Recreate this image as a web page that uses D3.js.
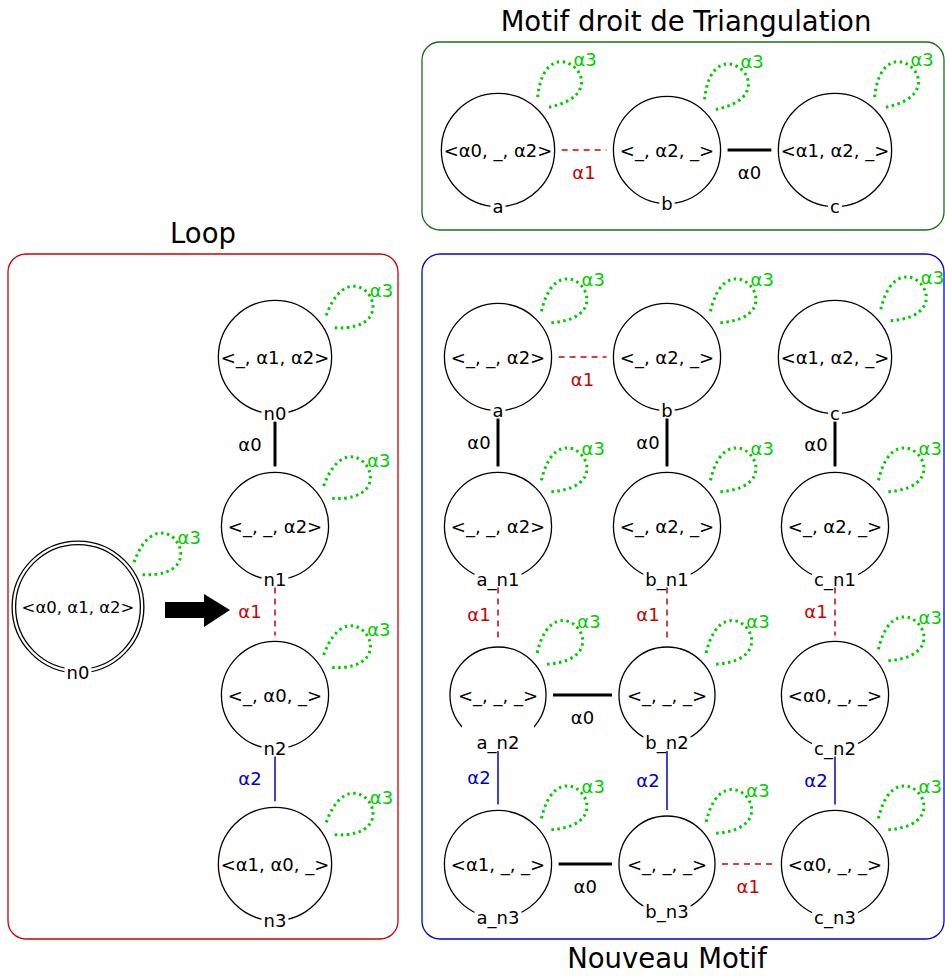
<!DOCTYPE html>
<html>
<head>
<meta charset="utf-8">
<script src="https://cdn.jsdelivr.net/npm/d3@7"></script>
<style>
  body { margin: 0; background: #fff; }
</style>
</head>
<body>
<script>
// Motif droit de Triangulation
const motifNames = ["a", "b", "c"];
const motifLabels = ["<α0, _, α2>", "<_, α2, _>", "<α1, α2, _>"];
const motifEdges = [["a", "b", "α1"], ["b", "c", "α0"]];

// Loop
const startName = "n0";
const startLabel = "<α0, α1, α2>";
const loopNames = ["n0", "n1", "n2", "n3"];
const loopLabels = ["<_, α1, α2>", "<_, _, α2>", "<_, α0, _>", "<α1, α0, _>"];
const loopEdges = [["n0", "n1", "α0"], ["n1", "n2", "α1"], ["n2", "n3", "α2"]];

// Nouveau Motif
const newCols = ["a", "b", "c"];
const newRows = ["", "_n1", "_n2", "_n3"];
const newLabels = [
  ["<_, _, α2>", "<_, α2, _>", "<α1, α2, _>"],
  ["<_, _, α2>", "<_, α2, _>", "<_, α2, _>"],
  ["<_, _, _>", "<_, _, _>", "<α0, _, _>"],
  ["<α1, _, _>", "<_, _, _>", "<α0, _, _>"]
];
const newEdges = [
  ["a", "a_n1", "α0"], ["b", "b_n1", "α0"], ["c", "c_n1", "α0"],
  ["a_n1", "a_n2", "α1"], ["b_n1", "b_n2", "α1"], ["c_n1", "c_n2", "α1"],
  ["a_n2", "a_n3", "α2"], ["b_n2", "b_n3", "α2"], ["c_n2", "c_n3", "α2"],
  ["a", "b", "α1"], ["a_n2", "b_n2", "α0"], ["a_n3", "b_n3", "α0"], ["b_n3", "c_n3", "α1"]
];
const openNodes = ["a_n2"]; // circle drawn open at the bottom
const loopLabel = "α3";

var font = "DejaVu Sans";
var green = "#00cc00";

var edgeStyle = {
  "α0": { color: "#000", width: 3, dash: null },
  "α1": { color: "#cc0000", width: 1.5, dash: "6,5" },
  "α2": { color: "#0000cc", width: 1.5, dash: null }
};

var panels = {
  motif: { box: [422, 42, 944, 230], color: "#1b6e1b", title: "Motif droit de Triangulation", tx: 686, ty: 31, angle: -47, dx: -21 },
  loop: { box: [8, 254, 398, 939], color: "#cc0000", title: "Loop", tx: 203, ty: 243, angle: -33, dx: -25 },
  nouveau: { box: [422, 254, 944, 939], color: "#0000dd", title: "Nouveau Motif", tx: 667, ty: 968, angle: -40, dx: -19 }
};

var x = d3.scaleOrdinal().domain(["start", "loop", "a", "b", "c"]).range([78, 275, 498, 667, 835]);
var y = d3.scaleOrdinal().domain(["top", "r0", "r1", "mid", "r2", "r3"]).range([150, 357, 526, 607, 695, 864]);
// circle radius from label width (graphviz-like)
var r = d3.scaleLinear().domain([80, 94, 108]).range([48, 53.5, 56.5]);
var rowKeys = ["r0", "r1", "r2", "r3"];

var svg = d3.select("body").append("svg").attr("width", 945).attr("height", 976);

function textWidth(s, size) {
  var t = svg.append("text").attr("font-family", font).attr("font-size", size).text(s);
  var w = t.node().getComputedTextLength();
  t.remove();
  return w;
}

// build nodes
var nodes = [];
motifNames.forEach(function (n, i) {
  nodes.push({ key: "motif:" + n, name: n, label: motifLabels[i], panel: "motif", col: n, row: "top" });
});
loopNames.forEach(function (n, i) {
  nodes.push({ key: "loop:" + n, name: n, label: loopLabels[i], panel: "loop", col: "loop", row: rowKeys[i] });
});
nodes.push({ key: "loop:start", name: startName, label: startLabel, panel: "loop", col: "start", row: "mid", double: true });
newRows.forEach(function (suf, ri) {
  newCols.forEach(function (c, ci) {
    var n = c + suf;
    nodes.push({ key: "nouveau:" + n, name: n, label: newLabels[ri][ci], panel: "nouveau", col: c, row: rowKeys[ri], open: openNodes.indexOf(n) >= 0 });
  });
});
nodes.forEach(function (d) {
  d.cx = x(d.col);
  d.cy = y(d.row);
  d.size = d.double ? 16.5 : 18;
  d.w = textWidth(d.label, d.size);
  d.r = d.double ? d.w / 2 + 6 : r(d.w);
});
var byKey = {};
nodes.forEach(function (d) { byKey[d.key] = d; });

var edges = [];
[["motif", motifEdges], ["loop", loopEdges], ["nouveau", newEdges]].forEach(function (p) {
  p[1].forEach(function (e) {
    edges.push({ panel: p[0], s: byKey[p[0] + ":" + e[0]], t: byKey[p[0] + ":" + e[1]], a: e[2] });
  });
});

// panel boxes and titles
Object.keys(panels).forEach(function (k) {
  var p = panels[k];
  svg.append("rect")
    .attr("x", p.box[0]).attr("y", p.box[1])
    .attr("width", p.box[2] - p.box[0]).attr("height", p.box[3] - p.box[1])
    .attr("rx", 18).attr("ry", 18)
    .attr("fill", "none").attr("stroke", p.color).attr("stroke-width", 1.3);
  svg.append("text")
    .attr("x", p.tx).attr("y", p.ty)
    .attr("text-anchor", "middle")
    .attr("font-family", font).attr("font-size", 27.5)
    .text(p.title);
});

// alpha3 loops: teardrop pointing away from the node, u = along axis, v = across
function loopPath(d) {
  var th = panels[d.panel].angle * Math.PI / 180;
  var U = [Math.cos(th), Math.sin(th)], V = [-Math.sin(th), Math.cos(th)];
  function pt(u, v) { return [d.cx + u * U[0] + v * V[0], d.cy + u * U[1] + v * V[1]]; }
  var p = d3.path();
  var p0 = pt(d.r + 9, -7), p1 = pt(d.r + 72, -55), p2 = pt(d.r + 72, 55), p3 = pt(d.r + 8, 7);
  p.moveTo(p0[0], p0[1]);
  p.bezierCurveTo(p1[0], p1[1], p2[0], p2[1], p3[0], p3[1]);
  d.lab = pt(d.r + 69, 2);
  return p.toString();
}

svg.append("g").selectAll("path")
  .data(nodes)
  .enter()
  .append("path")
  .attr("d", loopPath)
  .attr("fill", "none")
  .attr("stroke", green)
  .attr("stroke-width", 3)
  .attr("stroke-dasharray", "2.5,3.5");

svg.append("g").selectAll("text")
  .data(nodes)
  .enter()
  .append("text")
  .attr("x", function (d) { return d.lab[0]; })
  .attr("y", function (d) { return d.lab[1]; })
  .attr("text-anchor", "middle")
  .attr("dominant-baseline", "central")
  .attr("font-family", font).attr("font-size", 18)
  .attr("fill", green)
  .text(loopLabel);

// nodes
var g = svg.append("g").selectAll("g")
  .data(nodes)
  .enter()
  .append("g");

g.append("circle")
  .attr("cx", function (d) { return d.cx; })
  .attr("cy", function (d) { return d.cy; })
  .attr("r", function (d) { return d.double ? d.r + 3.5 : d.r; })
  .attr("fill", "none").attr("stroke", "#000").attr("stroke-width", 1.3);

g.filter(function (d) { return d.double; })
  .append("circle")
  .attr("cx", function (d) { return d.cx; })
  .attr("cy", function (d) { return d.cy; })
  .attr("r", function (d) { return d.r; })
  .attr("fill", "none").attr("stroke", "#000").attr("stroke-width", 1.3);

g.append("text")
  .attr("x", function (d) { return d.cx; })
  .attr("y", function (d) { return d.cy; })
  .attr("text-anchor", "middle")
  .attr("dominant-baseline", "central")
  .attr("font-family", font)
  .attr("font-size", function (d) { return d.size; })
  .text(function (d) { return d.label; });

// name under the circle, masking the outline
g.each(function (d) {
  var sel = d3.select(this);
  var rb = d.double ? d.r + 3.5 : d.r;
  var base = d.cy + rb + 6;
  var w = textWidth(d.name, 18);
  var mw = d.open ? 72 : w + 4;
  var top = d.open ? d.cy + rb - 17 : base - 14;
  sel.append("rect")
    .attr("x", d.cx - mw / 2).attr("y", top)
    .attr("width", mw).attr("height", base + 2 - top)
    .attr("fill", "#fff");
  sel.append("text")
    .attr("x", d.cx).attr("y", base)
    .attr("text-anchor", "middle")
    .attr("font-family", font).attr("font-size", 18)
    .text(d.name);
});

// edges
edges.forEach(function (e) {
  var st = edgeStyle[e.a];
  var horiz = Math.abs(e.s.cy - e.t.cy) < 1;
  var x1, y1, x2, y2, lx, ly;
  if (horiz) {
    x1 = e.s.cx + e.s.r + 7; x2 = e.t.cx - e.t.r - 7;
    y1 = y2 = e.s.cy;
    lx = (x1 + x2) / 2; ly = e.s.cy + 22;
  } else {
    x1 = x2 = e.s.cx;
    y1 = e.s.cy + e.s.r + 8; y2 = e.t.cy - e.t.r - 6;
    lx = e.s.cx + panels[e.panel].dx; ly = (y1 + y2) / 2;
  }
  svg.append("line")
    .attr("x1", x1).attr("y1", y1).attr("x2", x2).attr("y2", y2)
    .attr("stroke", st.color).attr("stroke-width", st.width)
    .attr("stroke-dasharray", st.dash);
  svg.append("text")
    .attr("x", lx).attr("y", ly)
    .attr("text-anchor", "middle")
    .attr("dominant-baseline", "central")
    .attr("font-family", font).attr("font-size", 18)
    .attr("fill", st.color)
    .text(e.a);
});

// transformation arrow
svg.append("path")
  .attr("d", "M165,602 L204,602 L204,594 L230,610 L204,627 L204,618 L165,618 Z")
  .attr("fill", "#000");
</script>
</body>
</html>
